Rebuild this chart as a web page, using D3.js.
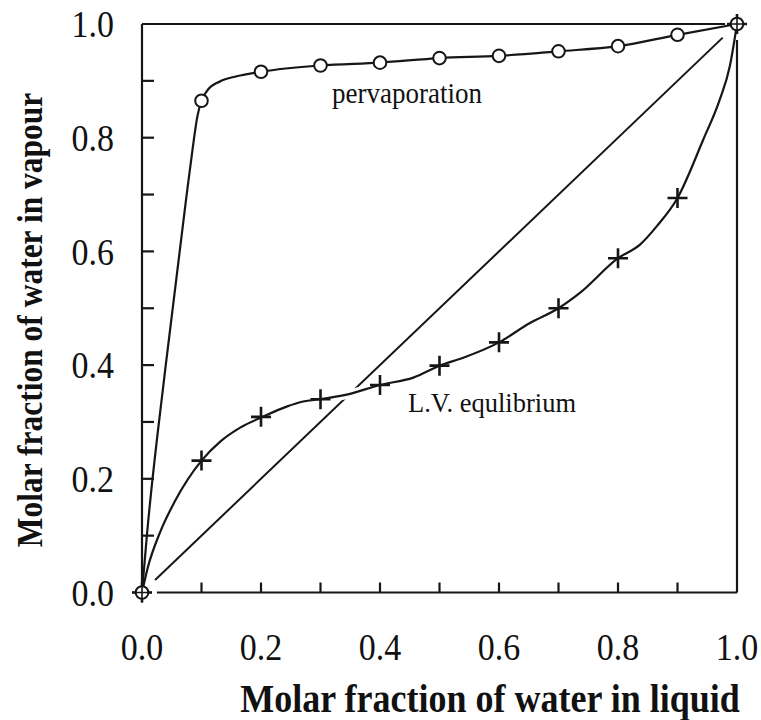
<!DOCTYPE html>
<html>
<head>
<meta charset="utf-8">
<script src="https://cdn.jsdelivr.net/npm/d3@7"></script>
<style>
  html, body { margin: 0; padding: 0; background: #fff; }
  svg { display: block; }
  text { font-family: "Liberation Serif", "Times New Roman", serif; fill: #111; }
</style>
</head>
<body>
<svg id="chart" width="761" height="720"></svg>
<script>
// Pervaporation: marked points (x, y)
const pervapX = [0.0, 0.1, 0.2, 0.3, 0.4, 0.5, 0.6, 0.7, 0.8, 0.9, 1.0];
const pervapY = [0.0, 0.865, 0.916, 0.927, 0.932, 0.940, 0.944, 0.952, 0.961, 0.981, 1.0];
// Pervaporation: hand-drawn curve trace
const pervapCurveX = [0.0, 0.008, 0.039, 0.074, 0.085, 0.093, 0.1, 0.109, 0.131, 0.159, 0.2, 0.3, 0.4, 0.5, 0.6, 0.7, 0.8, 0.9, 1.0];
const pervapCurveY = [0.0, 0.098, 0.392, 0.691, 0.780, 0.837, 0.865, 0.882, 0.899, 0.908, 0.916, 0.927, 0.932, 0.940, 0.944, 0.952, 0.961, 0.981, 1.0];

// Liquid-vapour equilibrium: marked points
const lvX = [0.0, 0.1, 0.2, 0.3, 0.4, 0.5, 0.6, 0.7, 0.8, 0.9, 1.0];
const lvY = [0.0, 0.232, 0.309, 0.340, 0.365, 0.399, 0.440, 0.500, 0.588, 0.694, 1.0];
// Liquid-vapour equilibrium: curve trace
const lvCurveX = [0.0, 0.01, 0.03, 0.055, 0.1, 0.131, 0.165, 0.203, 0.243, 0.271, 0.3, 0.344, 0.4, 0.456, 0.5, 0.54, 0.6, 0.652, 0.7, 0.736, 0.8, 0.837, 0.865, 0.9, 0.943, 0.971, 0.988, 1.0];
const lvCurveY = [0.0, 0.045, 0.105, 0.160, 0.232, 0.265, 0.29, 0.309, 0.327, 0.336, 0.340, 0.348, 0.365, 0.378, 0.399, 0.413, 0.440, 0.474, 0.500, 0.527, 0.588, 0.612, 0.644, 0.694, 0.796, 0.867, 0.926, 1.0];

// x = y reference line
const diagX = [0.022, 0.976];

const tickLabels = ["0.0", "0.2", "0.4", "0.6", "0.8", "1.0"];
const minorTicks = [0.1, 0.2, 0.3, 0.4, 0.5, 0.6, 0.7, 0.8, 0.9];

const svg = d3.select("#chart");
const x = d3.scaleLinear().domain([0, 1]).range([142, 737]);
const y = d3.scaleLinear().domain([0, 1]).range([592.5, 24]);
const ink = "#161616";
const stretch = 1.12; // glyphs in the original are a little taller than Times

// frame (with little gaps near the corner markers)
const frame = svg.append("g").attr("stroke", ink).attr("stroke-width", 2.2).attr("fill", "none");
frame.append("line").attr("x1", x(0)).attr("x2", x(0.98)).attr("y1", y(1)).attr("y2", y(1));
frame.append("line").attr("x1", x(1)).attr("x2", x(1)).attr("y1", y(0.972)).attr("y2", y(0));
frame.append("line").attr("x1", x(0.025)).attr("x2", x(1)).attr("y1", y(0)).attr("y2", y(0));
frame.append("line").attr("x1", x(0)).attr("x2", x(0)).attr("y1", y(1)).attr("y2", y(0.016));

// inward ticks
frame.selectAll(".ty").data(minorTicks).join("line")
  .attr("x1", x(0)).attr("x2", x(0) + 12).attr("y1", d => y(d)).attr("y2", d => y(d));
frame.selectAll(".tx").data(minorTicks).join("line")
  .attr("x1", d => x(d)).attr("x2", d => x(d)).attr("y1", y(0)).attr("y2", y(0) - 10);

// tick labels
svg.selectAll(".ly").data(tickLabels).join("text")
  .attr("transform", d => `translate(114,${y(+d)}) scale(1,${stretch})`).attr("dy", "0.35em")
  .attr("text-anchor", "end").attr("font-size", 34).text(d => d);
svg.selectAll(".lx").data(tickLabels).join("text")
  .attr("transform", d => `translate(${x(+d)},660) scale(1,${stretch})`)
  .attr("text-anchor", "middle").attr("font-size", 34).text(d => d);

// axis titles
svg.append("text").attr("transform", `translate(490,712) scale(1,${stretch})`).attr("text-anchor", "middle")
  .attr("font-size", 36).attr("font-weight", "bold")
  .text("Molar fraction of water in liquid");
svg.append("text").attr("transform", `translate(42,320) rotate(-90) scale(1,${stretch})`).attr("text-anchor", "middle")
  .attr("font-size", 31.5).attr("font-weight", "bold")
  .text("Molar fraction of water in vapour");

// diagonal
svg.append("line").attr("stroke", ink).attr("stroke-width", 2)
  .attr("x1", x(diagX[0])).attr("y1", y(diagX[0])).attr("x2", x(diagX[1])).attr("y2", y(diagX[1]));

const line = d3.line().x(d => x(d[0])).y(d => y(d[1])).curve(d3.curveMonotoneX);
const pervapCurve = pervapCurveX.map((v, i) => [v, pervapCurveY[i]]);
const lvCurve = lvCurveX.map((v, i) => [v, lvCurveY[i]]);

// white halo so the diagonal appears broken where the curve crosses it
svg.append("path").datum(lvCurve.filter(d => d[0] > 0.25 && d[0] < 0.45)).attr("d", line)
  .attr("fill", "none").attr("stroke", "#fff").attr("stroke-width", 9);

svg.append("path").datum(pervapCurve).attr("d", line)
  .attr("fill", "none").attr("stroke", ink).attr("stroke-width", 2.2);
svg.append("path").datum(lvCurve).attr("d", line)
  .attr("fill", "none").attr("stroke", ink).attr("stroke-width", 2.2);

// plus markers
const lvPts = lvX.map((v, i) => [v, lvY[i]]);
const plus = svg.append("g").attr("stroke", ink).attr("stroke-width", 2.6);
plus.selectAll("path").data(lvPts).join("path")
  .attr("d", d => `M${x(d[0]) - 10},${y(d[1])}h20M${x(d[0])},${y(d[1]) - 10}v20`);

// circle markers
const pvPts = pervapX.map((v, i) => [v, pervapY[i]]);
svg.append("g").selectAll("circle").data(pvPts).join("circle")
  .attr("cx", d => x(d[0])).attr("cy", d => y(d[1])).attr("r", 6.3)
  .attr("fill", "#fff").attr("stroke", ink).attr("stroke-width", 2);
// crosshair through the shared end points
svg.append("g").attr("stroke", ink).selectAll("path").data([lvPts[0], lvPts[lvPts.length - 1]]).join("path")
  .attr("stroke-width", 1.6)
  .attr("d", d => `M${x(d[0]) - 10},${y(d[1])}h20M${x(d[0])},${y(d[1]) - 10}v20`);

// curve labels
svg.append("text").attr("transform", `translate(332,103) scale(1,1.06)`).attr("font-size", 27).text("pervaporation");
svg.append("text").attr("transform", `translate(408,412) scale(1,1.06)`).attr("font-size", 26.5).text("L.V. equlibrium");
</script>
</body>
</html>
